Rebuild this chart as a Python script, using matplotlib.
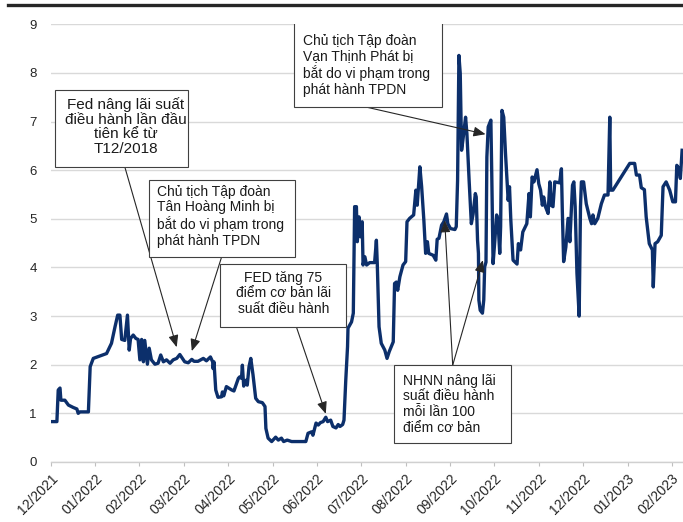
import matplotlib.pyplot as plt
from matplotlib.lines import Line2D
from matplotlib.patches import Rectangle

plt.rcParams['font.family'] = ['Liberation Sans', 'DejaVu Sans']

# x = months elapsed since 12/2021, y = rate (%)
months = [
    0.02, 0.14, 0.17, 0.21, 0.23, 0.32, 0.40, 0.51, 0.59, 0.62, 0.66, 0.85, 0.89, 0.96,
    1.11, 1.26, 1.37, 1.45, 1.51, 1.56, 1.60, 1.67, 1.73, 1.77, 1.80, 1.86, 1.92, 1.97,
    2.01, 2.05, 2.09, 2.12, 2.18, 2.22, 2.27, 2.35, 2.42, 2.48, 2.54, 2.61, 2.69, 2.76,
    2.84, 2.91, 3.02, 3.10, 3.18, 3.23, 3.32, 3.44, 3.51, 3.60, 3.65, 3.66, 3.68, 3.72,
    3.77, 3.85, 3.87, 3.90, 3.96, 4.08, 4.13, 4.23, 4.26, 4.30, 4.32, 4.35, 4.40, 4.43,
    4.47, 4.51, 4.56, 4.62, 4.68, 4.77, 4.83, 4.85, 4.90, 4.98, 5.07, 5.13, 5.20, 5.25,
    5.33, 5.43, 5.75, 5.80, 5.88, 5.91, 5.98, 6.03, 6.08, 6.14, 6.20, 6.24, 6.31, 6.36,
    6.43, 6.48, 6.52, 6.58, 6.61, 6.65, 6.69, 6.70, 6.78, 6.82, 6.85, 6.89, 6.91, 6.95,
    6.98, 7.02, 7.04, 7.08, 7.12, 7.19, 7.30, 7.34, 7.36, 7.40, 7.45, 7.53, 7.58, 7.63,
    7.72, 7.75, 7.79, 7.82, 7.87, 7.94, 8.00, 8.03, 8.09, 8.18, 8.23, 8.26, 8.32, 8.36,
    8.41, 8.45, 8.49, 8.52, 8.62, 8.68, 8.71, 8.75, 8.81, 8.86, 8.92, 8.95, 9.01, 9.11,
    9.14, 9.17, 9.20, 9.23, 9.26, 9.29, 9.35, 9.38, 9.43, 9.48, 9.52, 9.57, 9.59, 9.62,
    9.64, 9.65, 9.68, 9.73, 9.76, 9.78, 9.81, 9.83, 9.86, 9.89, 9.92, 9.94, 9.97, 10.01,
    10.05, 10.08, 10.12, 10.14, 10.17, 10.21, 10.25, 10.31, 10.34, 10.37, 10.42, 10.51,
    10.54, 10.59, 10.64, 10.73, 10.78, 10.81, 10.85, 10.89, 10.96, 11.00, 11.04, 11.08,
    11.11, 11.15, 11.21, 11.25, 11.28, 11.32, 11.36, 11.47, 11.51, 11.53, 11.56, 11.61,
    11.66, 11.70, 11.76, 11.79, 11.82, 11.86, 11.91, 11.94, 11.96, 12.01, 12.07, 12.15,
    12.19, 12.22, 12.26, 12.33, 12.41, 12.48, 12.56, 12.60, 12.62, 12.67, 13.05, 13.16,
    13.20, 13.27, 13.31, 13.38, 13.42, 13.49, 13.56, 13.58, 13.62, 13.68, 13.76, 13.80,
    13.87, 13.95, 14.02, 14.08, 14.11, 14.16, 14.19, 14.23,
]
rate = [
    0.83, 0.83, 1.48, 1.52, 1.27, 1.27, 1.17, 1.12, 1.09, 1.00, 1.03, 1.03, 1.96, 2.13,
    2.18, 2.23, 2.44, 2.78, 3.02, 3.02, 2.52, 2.50, 3.02, 2.30, 2.54, 2.61, 2.54, 2.52,
    2.10, 2.52, 2.06, 2.50, 2.01, 2.34, 2.10, 2.01, 2.03, 2.20, 2.06, 2.10, 2.03, 2.10,
    2.13, 2.21, 2.06, 2.04, 2.11, 2.07, 2.07, 2.13, 2.08, 2.16, 2.06, 1.92, 2.06, 1.48,
    1.33, 1.34, 1.44, 1.36, 1.55, 1.48, 1.46, 1.72, 1.75, 1.72, 1.99, 1.56, 1.68, 1.58,
    1.96, 2.13, 1.79, 1.31, 1.24, 1.22, 1.14, 0.69, 0.49, 0.42, 0.51, 0.45, 0.49, 0.42,
    0.45, 0.42, 0.42, 0.59, 0.62, 0.55, 0.80, 0.76, 0.81, 0.83, 0.92, 0.83, 0.86, 0.73,
    0.70, 0.77, 0.73, 0.77, 0.86, 1.68, 2.37, 2.75, 2.88, 3.06, 5.25, 5.25, 4.53, 5.04,
    4.63, 4.94, 4.05, 4.22, 4.05, 4.10, 4.10, 4.56, 4.08, 2.78, 2.44, 2.30, 2.13, 2.27,
    2.47, 3.67, 3.70, 3.53, 3.81, 4.05, 4.12, 4.94, 5.01, 5.08, 5.59, 5.28, 6.07, 5.66,
    4.97, 4.29, 4.53, 4.29, 4.25, 4.15, 4.58, 4.60, 4.87, 4.94, 5.10, 4.90, 4.80, 4.78,
    4.84, 5.79, 8.36, 7.99, 6.41, 6.62, 7.09, 6.75, 5.79, 4.90, 5.10, 5.52, 5.45, 4.56,
    4.29, 3.33, 3.12, 3.06, 3.33, 4.01, 4.11, 6.27, 6.89, 6.96, 7.03, 5.93, 4.08, 4.56,
    5.08, 4.97, 4.29, 4.84, 7.23, 7.09, 6.34, 5.38, 5.66, 4.97, 4.15, 4.07,
    4.49, 4.36, 4.73, 4.90, 5.52, 5.04, 5.86, 5.76, 6.01, 5.72, 5.59, 5.28,
    5.45, 5.25, 5.11, 5.76, 5.28, 5.25, 5.76, 5.74, 6.03, 5.18, 4.12, 4.42,
    5.01, 4.53, 5.69, 5.76, 5.25, 3.88, 3.00, 5.25, 5.76, 5.76, 5.31, 5.01,
    4.90, 5.08, 4.90, 5.01, 5.31, 5.49, 5.49, 7.09, 5.59, 5.59, 6.14, 6.14,
    5.90, 5.90, 5.64, 5.60, 5.04, 4.49, 4.36, 3.60, 4.49, 4.53, 4.66, 5.66,
    5.76, 5.59, 5.35, 5.35, 6.10, 6.03, 5.83, 6.41,
]
month_labels = ['12/2021', '01/2022', '02/2022', '03/2022', '04/2022', '05/2022', '06/2022',
                '07/2022', '08/2022', '09/2022', '10/2022', '11/2022', '12/2022', '01/2023',
                '02/2023']

# callouts: text, box (x0, x1, y0, y1), text anchor (x, y, align), font size, arrows (start, tip)
notes = [
    ('Fed nâng lãi suất\nđiều hành lần đầu\ntiên kể từ\nT12/2018',
     (0.10, 3.09, 6.07, 7.65), (1.69, 6.90, 'center'), 11,
     [((1.67, 6.07), (2.84, 2.36))]),
    ('Chủ tịch Tập đoàn\nTân Hoàng Minh bị\nbắt do vi phạm trong\nphát hành TPDN',
     (2.21, 5.50, 4.21, 5.79), (2.39, 5.05, 'left'), 10,
     [((3.85, 4.21), (3.18, 2.28))]),
    ('FED tăng 75\nđiểm cơ bản lãi\nsuất điều hành',
     (3.81, 6.65, 2.77, 4.07), (5.24, 3.47, 'center'), 10,
     [((5.54, 2.77), (6.20, 0.99))]),
    ('Chủ tịch Tập đoàn\nVạn Thịnh Phát bị\nbắt do vi phạm trong\nphát hành TPDN',
     (5.49, 8.81, 7.29, 9.05), (5.69, 8.16, 'left'), 10,
     [((7.15, 7.29), (9.80, 6.74))]),
    ('NHNN nâng lãi\nsuất điều hành\nmỗi lần 100\nđiểm cơ bản',
     (7.74, 10.37, 0.38, 1.99), (7.93, 1.19, 'left'), 10,
     [((9.06, 1.99), (8.88, 4.97)), ((9.06, 1.99), (9.74, 4.15))]),
]

fig = plt.figure(figsize=(6.83, 5.22), dpi=100)
ax = fig.add_axes([0.0742, 0.115, 0.9258, 0.8384])

ax.plot(months, rate, color='#0c2f6b', linewidth=2.4, solid_joinstyle='round', zorder=3)

ax.set_xlim(0, 14.25)
ax.set_ylim(0, 9)
ax.set_yticks(range(10))
ax.set_xticks(range(len(month_labels)))
ax.set_xticklabels(month_labels, rotation=45, ha='right', rotation_mode='anchor')
ax.tick_params(axis='x', length=3, color='#bfbfbf', labelsize=10, pad=4, labelcolor='#262626')
ax.tick_params(axis='y', length=0, labelsize=9.5, pad=10, labelcolor='#262626')
ax.yaxis.grid(True, color='#d9d9d9', linewidth=1)
ax.set_axisbelow(True)
for side in ['top', 'right', 'left']:
    ax.spines[side].set_visible(False)
ax.spines['bottom'].set_color('#d0d0d0')
ax.spines['bottom'].set_linewidth(1)

for text, (x0, x1, y0, y1), (tx, ty, align), size, arrows in notes:
    ax.add_patch(Rectangle((x0, y0), x1 - x0, y1 - y0, facecolor='white',
                           edgecolor='#404040', linewidth=0.8, zorder=5))
    ax.text(tx, ty, text, ha=align, va='center', multialignment=align,
            fontsize=size, color='#1a1a1a', linespacing=1.05 if size > 10 else 1.15, zorder=6)
    for start, tip in arrows:
        ax.annotate('', xy=tip, xytext=start,
                    arrowprops=dict(arrowstyle='-|>,head_length=0.6,head_width=0.25',
                                    color='#262626', linewidth=0.8, mutation_scale=12,
                                    shrinkA=0, shrinkB=0), zorder=4)

# dark rule across the top
fig.add_artist(Line2D([0.0117, 1.0], [0.9904, 0.9904], color='#262626', linewidth=2.4))

fig.savefig('out.png', dpi=100)
